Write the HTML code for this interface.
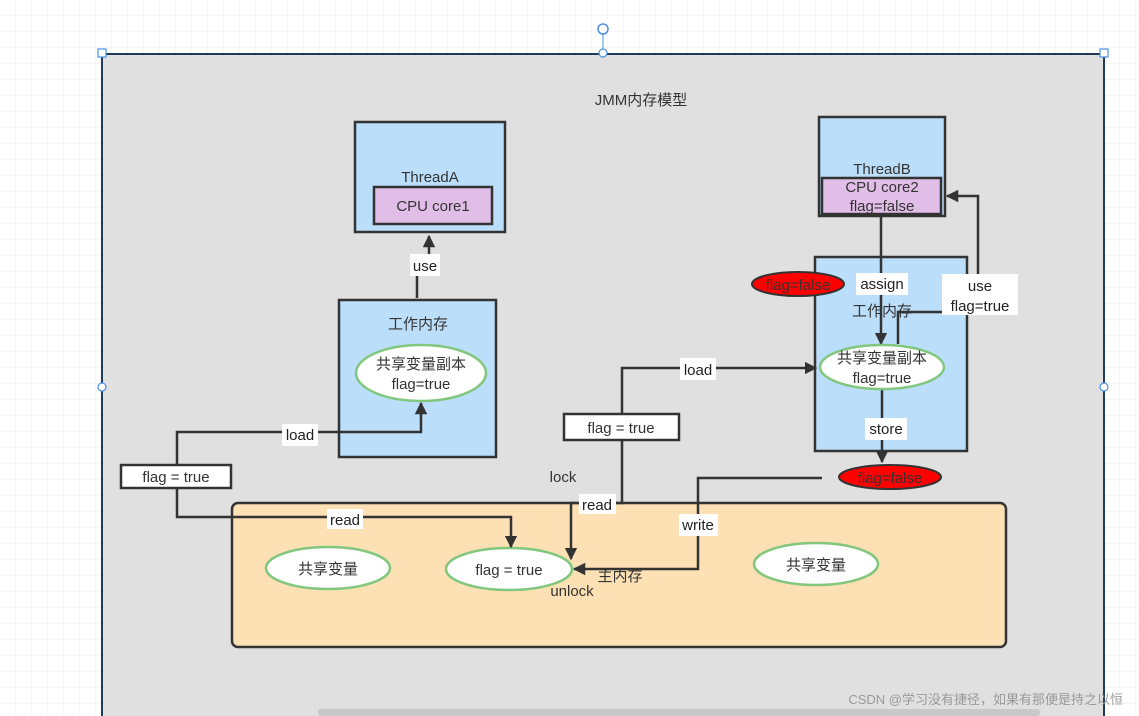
<!DOCTYPE html>
<html><head><meta charset="utf-8"><style>
html,body{margin:0;padding:0;background:#fff;}
svg{display:block;font-family:"Liberation Sans","Noto Sans CJK SC",sans-serif;}
</style></head><body>
<svg width="1139" height="716" viewBox="0 0 1139 716" xmlns="http://www.w3.org/2000/svg">
<defs>
<pattern id="g" width="16" height="16" patternUnits="userSpaceOnUse"><path d="M16 0V16H0" fill="none" stroke="#ececec" stroke-width="1"/></pattern>
<marker id="a" viewBox="0 0 10 10" refX="9" refY="5" markerWidth="5" markerHeight="5" orient="auto"><path d="M0 0L10 5L0 10z" fill="#333"/></marker>
</defs>
<rect width="1139" height="716" fill="url(#g)"/>
<rect x="102" y="54" width="1002" height="670" fill="#e0e0e0" stroke="#1f3a5a" stroke-width="2"/>
<line x1="603" y1="29" x2="603" y2="53" stroke="#4a90e2"/>
<circle cx="603" cy="29" r="5" fill="#fff" stroke="#4a90e2" stroke-width="1.5"/>
<g fill="#fff" stroke="#4a90e2" stroke-width="1.2">
<rect x="98" y="49" width="8" height="8"/><rect x="1100" y="49" width="8" height="8"/>
<circle cx="603" cy="53" r="4"/><circle cx="102" cy="387" r="4"/><circle cx="1104" cy="387" r="4"/>
</g>
<text x="641" y="105" font-size="15" fill="#333" text-anchor="middle">JMM内存模型</text>

<!-- main memory -->
<rect x="232" y="503" width="774" height="144" rx="6" fill="#fde0b4" stroke="#333" stroke-width="2.5"/>
<g fill="#fff" stroke="#82c77e" stroke-width="2.5">
<ellipse cx="328" cy="568" rx="62" ry="21"/>
<ellipse cx="509" cy="569" rx="63" ry="21"/>
<ellipse cx="816" cy="564" rx="62" ry="21"/>
</g>
<g font-size="15" fill="#333" text-anchor="middle">
<text x="328" y="574">共享变量</text>
<text x="509" y="575">flag = true</text>
<text x="816" y="570">共享变量</text>
<text x="620" y="581">主内存</text>
<text x="572" y="596">unlock</text>
<text x="563" y="482">lock</text>
</g>

<!-- ThreadA -->
<rect x="355" y="122" width="150" height="110" fill="#bbdefb" stroke="#333" stroke-width="2.5"/>
<text x="430" y="182" font-size="15" fill="#333" text-anchor="middle">ThreadA</text>
<rect x="374" y="187" width="118" height="37" fill="#e1bee7" stroke="#333" stroke-width="2.5"/>
<text x="433" y="211" font-size="15" fill="#333" text-anchor="middle">CPU core1</text>

<!-- work mem A -->
<rect x="339" y="300" width="157" height="157" fill="#bbdefb" stroke="#333" stroke-width="2.5"/>
<text x="418" y="329" font-size="15" fill="#333" text-anchor="middle">工作内存</text>
<ellipse cx="421" cy="373" rx="65" ry="28" fill="#fff" stroke="#82c77e" stroke-width="2.5"/>
<text x="421" y="369" font-size="15" fill="#333" text-anchor="middle">共享变量副本</text>
<text x="421" y="389" font-size="15" fill="#333" text-anchor="middle">flag=true</text>

<!-- ThreadB -->
<rect x="819" y="117" width="126" height="99" fill="#bbdefb" stroke="#333" stroke-width="2.5"/>
<text x="882" y="174" font-size="15" fill="#333" text-anchor="middle">ThreadB</text>
<rect x="822" y="178" width="119" height="36" fill="#e1bee7" stroke="#333" stroke-width="2.5"/>
<text x="882" y="192" font-size="15" fill="#333" text-anchor="middle">CPU core2</text>
<text x="882" y="211" font-size="15" fill="#333" text-anchor="middle">flag=false</text>

<!-- work mem B -->
<rect x="815" y="257" width="152" height="194" fill="#bbdefb" stroke="#333" stroke-width="2.5"/>
<text x="882" y="316" font-size="15" fill="#333" text-anchor="middle">工作内存</text>

<!-- connectors -->
<g fill="none" stroke="#333" stroke-width="2.5">
<path d="M417 298V256H429V236" marker-end="url(#a)"/>
<path d="M177 465V432H421V403" marker-end="url(#a)"/>
<path d="M177 488V517H511V547" marker-end="url(#a)"/>
<path d="M622 440V503H571V559" marker-end="url(#a)"/>
<path d="M622 414V368H816" marker-end="url(#a)"/>
<path d="M881 216V344" marker-end="url(#a)"/>
<path d="M898 344V312H978V196H947" marker-end="url(#a)"/>
<path d="M882 389V462" marker-end="url(#a)"/>
<path d="M822 478H698V569H574" marker-end="url(#a)"/>
</g>
<ellipse cx="882" cy="367" rx="62" ry="22" fill="#fff" stroke="#82c77e" stroke-width="2.5"/>
<text x="882" y="363" font-size="15" fill="#333" text-anchor="middle">共享变量副本</text>
<text x="882" y="383" font-size="15" fill="#333" text-anchor="middle">flag=true</text>

<ellipse cx="798" cy="284" rx="46" ry="12" fill="#f00" stroke="#333" stroke-width="2"/>
<text x="798" y="290" font-size="15" fill="#333" text-anchor="middle">flag=false</text>
<ellipse cx="890" cy="477" rx="51" ry="12" fill="#f00" stroke="#333" stroke-width="2"/>
<text x="890" y="483" font-size="15" fill="#333" text-anchor="middle">flag=false</text>

<!-- flag boxes -->
<rect x="121" y="465" width="110" height="23" fill="#fff" stroke="#333" stroke-width="2.5"/>
<text x="176" y="482" font-size="15" fill="#333" text-anchor="middle">flag = true</text>
<rect x="564" y="414" width="115" height="26" fill="#fff" stroke="#333" stroke-width="2.5"/>
<text x="621" y="433" font-size="15" fill="#333" text-anchor="middle">flag = true</text>

<!-- labels -->
<g font-size="15" fill="#222" text-anchor="middle">
<rect x="410" y="254" width="30" height="22" fill="#fff"/><text x="425" y="271">use</text>
<rect x="282" y="424" width="36" height="22" fill="#fff"/><text x="300" y="440">load</text>
<rect x="327" y="509" width="36" height="20" fill="#fff"/><text x="345" y="525">read</text>
<rect x="579" y="494" width="37" height="20" fill="#fff"/><text x="597" y="510">read</text>
<rect x="680" y="358" width="36" height="22" fill="#fff"/><text x="698" y="375">load</text>
<rect x="856" y="273" width="52" height="22" fill="#fff"/><text x="882" y="289">assign</text>
<rect x="942" y="274" width="76" height="41" fill="#fff"/><text x="980" y="291">use</text><text x="980" y="311">flag=true</text>
<rect x="865" y="418" width="42" height="22" fill="#fff"/><text x="886" y="434">store</text>
<rect x="679" y="514" width="39" height="22" fill="#fff"/><text x="698" y="530">write</text>
</g>

<rect x="318" y="709" width="722" height="7" rx="3" fill="#c8c8c8"/>
<text x="1123" y="704" font-size="13" fill="#999" text-anchor="end">CSDN @学习没有捷径，如果有那便是持之以恒</text>
</svg>
</body></html>
